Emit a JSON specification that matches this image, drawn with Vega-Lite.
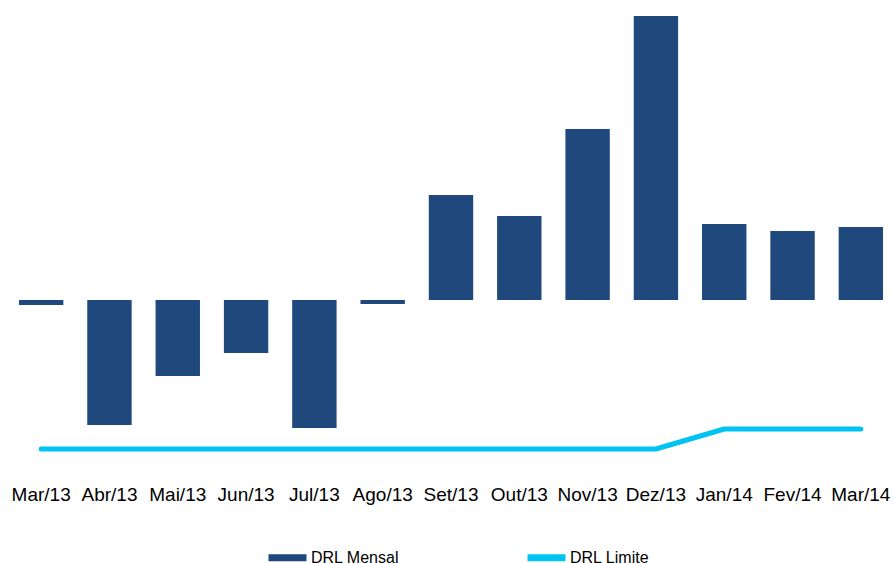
{
  "$schema": "https://vega.github.io/schema/vega-lite/v6.json",
  "width": 888,
  "height": 450,
  "autosize": "none",
  "padding": {"left": 7, "top": 10, "right": 0, "bottom": 103},
  "background": "white",
  "config": {"view": {"stroke": null}, "font": "Liberation Sans"},
  "data": {
    "values": [
      {"mes": "Mar/13", "mensal": -5, "limite": -149},
      {"mes": "Abr/13", "mensal": -125, "limite": -149},
      {"mes": "Mai/13", "mensal": -76, "limite": -149},
      {"mes": "Jun/13", "mensal": -53, "limite": -149},
      {"mes": "Jul/13", "mensal": -128, "limite": -149},
      {"mes": "Ago/13", "mensal": -4, "limite": -149},
      {"mes": "Set/13", "mensal": 105, "limite": -149},
      {"mes": "Out/13", "mensal": 84, "limite": -149},
      {"mes": "Nov/13", "mensal": 171, "limite": -149},
      {"mes": "Dez/13", "mensal": 284, "limite": -149},
      {"mes": "Jan/14", "mensal": 76, "limite": -129},
      {"mes": "Fev/14", "mensal": 69, "limite": -129},
      {"mes": "Mar/14", "mensal": 73, "limite": -129}
    ]
  },
  "encoding": {
    "x": {
      "field": "mes",
      "type": "nominal",
      "sort": null,
      "scale": {"paddingInner": 0.35, "paddingOuter": 0.175},
      "axis": {
        "title": null,
        "labelAngle": 0,
        "domain": false,
        "ticks": false,
        "labelPadding": 25,
        "labelFontSize": 19,
        "labelColor": "#000000",
        "labelFont": "Liberation Sans"
      }
    }
  },
  "layer": [
    {
      "mark": {"type": "bar", "color": "#1F497D"},
      "encoding": {
        "y": {
          "field": "mensal",
          "type": "quantitative",
          "scale": {"domain": [-160, 290], "nice": false, "zero": false},
          "axis": null
        },
        "color": {
          "datum": "DRL Mensal",
          "type": "nominal",
          "scale": {"domain": ["DRL Mensal", "DRL Limite"], "range": ["#1F497D", "#00C3F3"]},
          "legend": {
            "title": null,
            "orient": "none",
            "legendX": 258,
            "legendY": 525,
            "direction": "horizontal",
            "symbolType": "stroke",
            "symbolStrokeWidth": 7,
            "symbolSize": 1444,
            "labelFontSize": 16,
            "labelColor": "#000000",
            "labelOffset": 1,
            "columnPadding": 113,
            "labelFont": "Liberation Sans"
          }
        }
      }
    },
    {
      "mark": {"type": "line", "strokeWidth": 5, "strokeCap": "round", "strokeJoin": "round"},
      "encoding": {
        "y": {"field": "limite", "type": "quantitative"},
        "color": {"datum": "DRL Limite", "type": "nominal"}
      }
    }
  ]
}
